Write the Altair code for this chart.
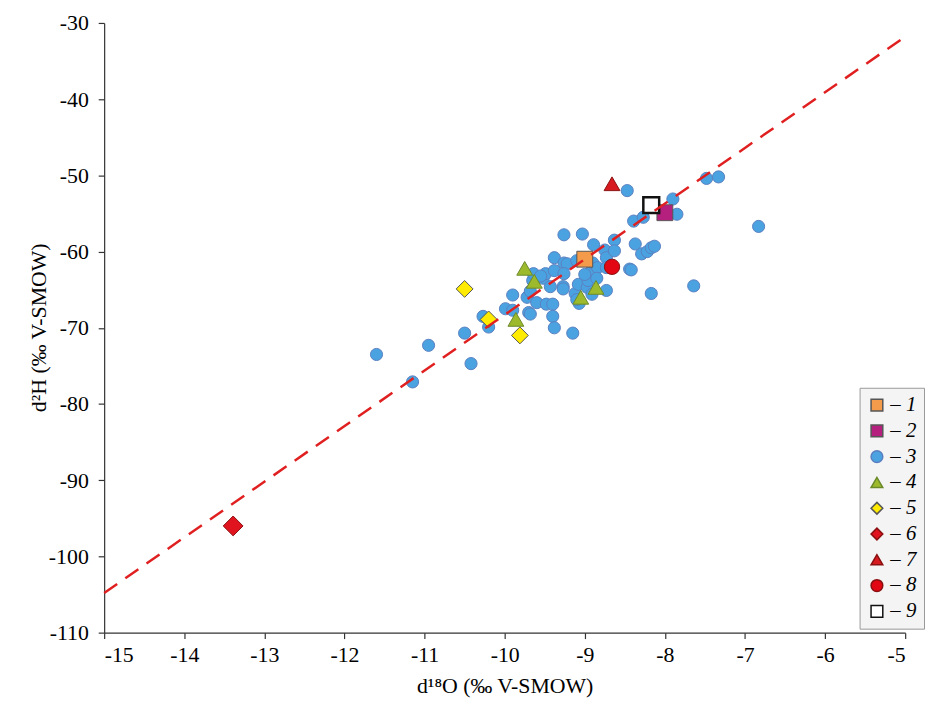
import altair as alt
import pandas as pd

# ---- data ----
blue_x = [-11.6, -11.15, -10.95, -10.5, -10.42, -10.27, -10.2, -9.99, -9.9, -9.9,
          -9.72, -9.7, -9.68, -9.68, -9.65, -9.64, -9.6, -9.52, -9.49, -9.48,
          -9.43, -9.4, -9.4, -9.38, -9.38, -9.38, -9.26, -9.22, -9.26, -9.27,
          -9.27, -9.26, -9.15, -9.12, -9.1, -9.08, -9.07, -9.03, -8.97, -8.96,
          -8.92, -8.91, -8.9, -8.89, -8.84, -8.75, -8.73, -8.73, -8.73, -8.63,
          -8.63, -8.47, -8.44, -8.42, -8.39, -8.37, -8.29, -8.27, -8.22, -8.17,
          -8.17, -8.13, -7.9, -7.85, -7.64, -7.48, -7.33, -6.83, -9.0, -8.85,
          -9.1, -9.55]
blue_y = [-73.5, -77.1, -72.3, -70.7, -74.7, -68.5, -69.9, -67.5, -67.7, -65.7,
          -66.0, -68.0, -68.2, -65.2, -63.8, -62.9, -66.7, -63.5, -62.9, -66.9,
          -64.6, -66.9, -68.5, -70.0, -62.5, -60.8, -61.5, -61.6, -62.9, -64.6,
          -64.9, -57.8, -70.7, -65.5, -61.2, -64.3, -66.8, -57.7, -64.7, -63.8,
          -62.6, -65.6, -61.5, -59.1, -62.1, -59.8, -60.8, -62.1, -65.1, -58.5,
          -59.9, -52.0, -62.3, -62.4, -56.0, -59.0, -60.3, -55.5, -60.0, -59.5,
          -65.5, -59.3, -53.1, -55.1, -64.5, -50.4, -50.2, -56.7, -63.0, -63.5,
          -66.3, -63.2]

g1_x, g1_y = [-9.0], [-61.0]
g2_x, g2_y = [-8.0], [-54.9]
g4_x, g4_y = [-9.75, -9.63, -9.86, -9.05, -8.86], [-62.2, -63.9, -68.9, -66.0, -64.7]
g5_x, g5_y = [-10.5, -10.2, -9.81], [-64.9, -68.9, -71.0]
g6_x, g6_y = [-13.39], [-96.0]
g7_x, g7_y = [-8.66], [-51.1]
g8_x, g8_y = [-8.66], [-62.0]
g9_x, g9_y = [-8.17], [-53.9]

line_x = [-15, -5]
line_y = [-104.8, -31.8]

groups = ["1", "2", "3", "4", "5", "6", "7", "8", "9"]
fills = ["#f39a4b", "#b5207e", "#4aa3e0", "#9cba2c", "#ffeb00", "#e0141e", "#d71920", "#e30613", "#ffffff"]
strokes = ["#555555", "#555555", "#5a7fc0", "#6b8a2a", "#555555", "#8a1010", "#8a1010", "#8a1010", "#111111"]
shapes = ["square", "square", "circle", "triangle-up", "diamond", "diamond", "triangle-up", "circle", "square"]
sizes = [256, 256, 150, 256, 290, 400, 256, 240, 256]
size_of = dict(zip(groups, sizes))

rows = []
def add(gx, gy, g):
    for a, b in zip(gx, gy):
        rows.append({"x": a, "y": b, "group": g})

add(blue_x, blue_y, "3")
add(g1_x, g1_y, "1")
add(g2_x, g2_y, "2")
add(g4_x, g4_y, "4")
add(g5_x, g5_y, "5")
add(g6_x, g6_y, "6")
add(g7_x, g7_y, "7")
add(g8_x, g8_y, "8")
add(g9_x, g9_y, "9")
pts = pd.DataFrame(rows)
pts["order"] = range(len(pts))
pts["sz"] = pts["group"].map(size_of)

line_df = pd.DataFrame({"x": line_x, "y": line_y})

FONT = "Liberation Serif"

xscale = alt.Scale(domain=[-15, -5], nice=False, zero=False)
yscale = alt.Scale(domain=[-110, -30], nice=False, zero=False)

xaxis = alt.Axis(title="d¹⁸O (‰ V-SMOW)", values=list(range(-15, -4)),
                 labelExpr="toString(datum.value)",
                 grid=False, tickSize=6, labelPadding=6, titlePadding=10)
yaxis = alt.Axis(title="d²H (‰ V-SMOW)", values=list(range(-110, -29, 10)),
                 labelExpr="toString(datum.value)",
                 grid=False, tickSize=6, labelPadding=10, titleX=-54, titleY=307)

leg = alt.Legend(title=None, labelExpr="'– ' + datum.label")

points = alt.Chart(pts).mark_point(filled=True, opacity=1).encode(
    x=alt.X("x:Q", scale=xscale, axis=xaxis),
    y=alt.Y("y:Q", scale=yscale, axis=yaxis),
    fill=alt.Fill("group:N", scale=alt.Scale(domain=groups, range=fills), legend=leg),
    stroke=alt.Stroke("group:N", scale=alt.Scale(domain=groups, range=strokes), legend=leg),
    shape=alt.Shape("group:N", scale=alt.Scale(domain=groups, range=shapes), legend=leg),
    size=alt.Size("sz:Q", scale=None),
    strokeWidth=alt.condition(alt.datum.group == "9", alt.value(2.5), alt.value(1)),
    order=alt.Order("order:Q"),
)

line = alt.Chart(line_df).mark_line(color="#e02020", strokeWidth=2.5, strokeDash=[16, 10]).encode(
    x=alt.X("x:Q", scale=xscale),
    y=alt.Y("y:Q", scale=yscale),
)

chart = alt.layer(points, line).properties(
    width=808, height=615,
    autosize=alt.AutoSizeParams(type="none"),
    padding={"left": 97, "top": 12, "right": 21, "bottom": 80},
).configure_view(stroke=None).configure_axis(
    labelFont=FONT, titleFont=FONT, labelFontSize=22, titleFontSize=22,
    labelColor="#000", titleColor="#000", titleFontWeight="normal",
    domainColor="#333", tickColor="#333", domainWidth=1.2, tickWidth=1.2,
).configure_legend(
    orient="none", legendX=762, legendY=368,
    fillColor="#f4f4f4", strokeColor="#999999", padding=7,
    labelFont=FONT, labelFontSize=21, labelFontStyle="italic", labelColor="#000",
    symbolSize=140, symbolStrokeWidth=1.5, rowPadding=4, labelOffset=3,
)

chart.save("out.html", embed_options={"renderer": "svg", "actions": False})
